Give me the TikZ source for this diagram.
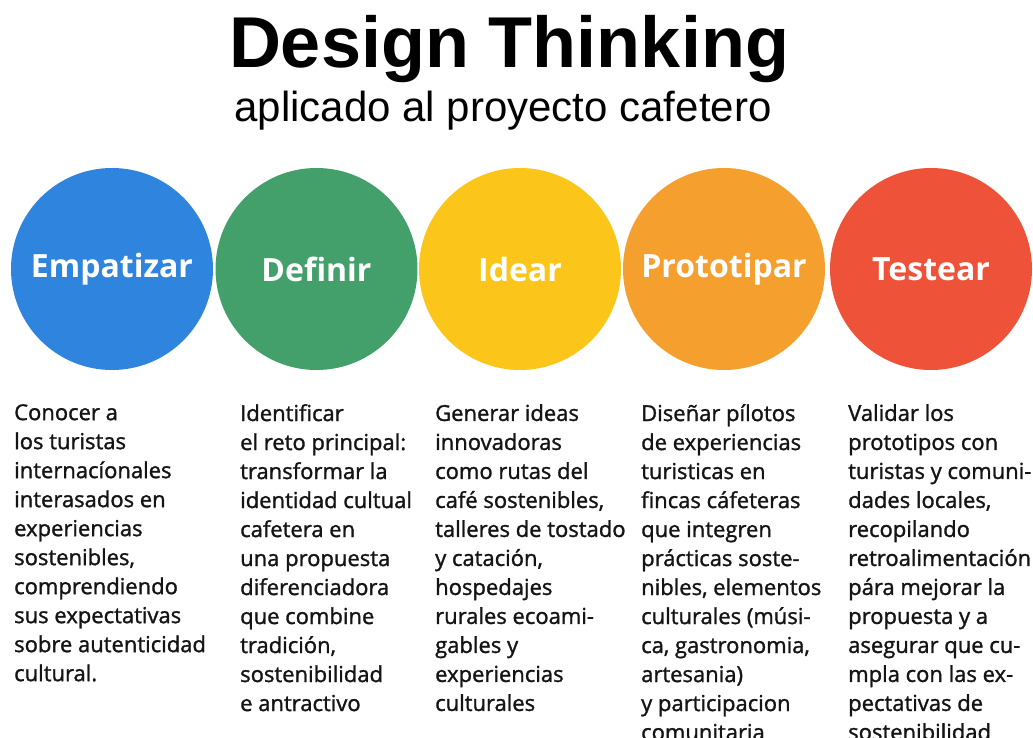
\documentclass[tikz,border=0pt]{standalone}
\usepackage{fontspec}
\setmainfont{Liberation Sans}
\newfontfamily\bodyfont[FakeBold=1.3]{Open Sans}
\newfontfamily\labfont{Open Sans}
\definecolor{cblue}{HTML}{2F85DD}
\definecolor{cgreen}{HTML}{43A06A}
\definecolor{cyellow}{HTML}{FCC51A}
\definecolor{corange}{HTML}{F59F2E}
\definecolor{cred}{HTML}{EE5239}
\definecolor{ink}{HTML}{141414}
\tikzset{
  phase/.style={circle, minimum size=202pt, inner sep=0pt, fill=#1, text=white,
    font=\labfont\bfseries\fontsize{32}{36}\selectfont},
  desc/.style={anchor=north west, inner sep=0pt, align=left, text=ink,
    font=\bodyfont\fontsize{22}{29}\selectfont}
}
\begin{document}
\begin{tikzpicture}[x=1pt,y=-1pt]
\clip (0,0) rectangle (1033,738);
\fill[white] (0,0) rectangle (1033,738);
\node[anchor=base, inner sep=0pt, font=\bfseries\fontsize{72}{80}\selectfont] (title) at (509,68) {Design Thinking};
\node[anchor=base, inner sep=0pt, font=\fontsize{42}{48}\selectfont] (sub) at (503,122) {aplicado al proyecto cafetero};

\node[phase=cblue] (emp) at (112,269) {Empatizar};
\node[phase=cgreen] (def) at (316.5,269) {Definir};
\node[phase=cyellow] (ide) at (520,269) {Idear};
\node[phase=corange] (pro) at (724,269) {Prototipar};
\node[phase=cred] (tes) at (931,269) {Testear};

\node[desc] (d1) at (14,404) {Conocer a\\los turistas\\internacíonales\\interasados en\\experiencias\\sostenibles,\\comprendiendo\\sus expectativas\\sobre autenticidad\\cultural.};
\node[desc] (d2) at (240,404) {Identificar\\el reto principal:\\transformar la\\identidad cultual\\cafetera en\\una propuesta\\diferenciadora\\que combine\\tradición,\\sostenibilidad\\e antractivo};
\node[desc] (d3) at (435,404) {Generar ideas\\innovadoras\\como rutas del\\café sostenibles,\\talleres de tostado\\y catación,\\hospedajes\\rurales ecoami-\\gables y\\experiencias\\culturales};
\node[desc] (d4) at (641,404) {Diseñar pílotos\\de experiencias\\turisticas en\\fincas cáfeteras\\que integren\\prácticas soste-\\nibles, elementos\\culturales (músi-\\ca, gastronomia,\\artesania)\\y participacion\\comunitaria};
\node[desc] (d5) at (848,404) {Validar los\\prototipos con\\turistas y comuni-\\dades locales,\\recopilando\\retroalimentación\\pára mejorar la\\propuesta y a\\asegurar que cu-\\mpla con las ex-\\pectativas de\\sostenibilidad};
\end{tikzpicture}
\end{document}
